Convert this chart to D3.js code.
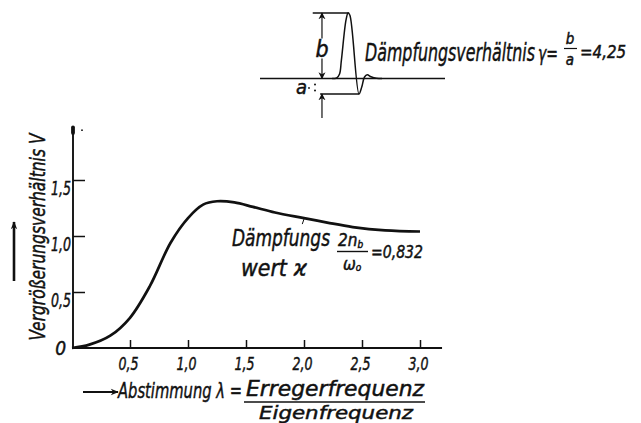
<!DOCTYPE html>
<html>
<head>
<meta charset="utf-8">
<script src="https://cdn.jsdelivr.net/npm/d3@7/dist/d3.min.js"></script>
<style>
  html, body { margin: 0; padding: 0; background: #fff; }
  svg { display: block; }
  text { font-family: "Liberation Sans Narrow", "DejaVu Sans Condensed", "Arial Narrow", sans-serif; font-style: italic; fill: #111; stroke: #111; stroke-width: 0.45; }
</style>
</head>
<body>
<svg id="chart" width="641" height="423"></svg>
<script>
// Resonance curve: magnification V against tuning ratio lambda
const lambda = [0, 0.15, 0.33, 0.5, 0.67, 0.85, 1.0, 1.13, 1.25, 1.4, 1.56, 1.75, 2.0, 2.2, 2.42, 2.7, 3.0];
const vergr  = [0, 0.03, 0.11, 0.27, 0.55, 0.94, 1.16, 1.28, 1.31, 1.30, 1.26, 1.21, 1.16, 1.12, 1.08, 1.05, 1.04];

const xTicks = [0.5, 1.0, 1.5, 2.0, 2.5, 3.0];
const xTickLabels = ["0,5", "1,0", "1,5", "2,0", "2,5", "3,0"];
const yTicks = [0, 0.5, 1.0, 1.5];
const yTickLabels = ["0", "0,5", "1,0", "1,5"];

// Decay record sketch: time (arbitrary) and deflection, b = 4,25 and a = 1
const pulseT = [39, 41.5, 43, 44, 46.5, 47.6, 48.6, 53.5, 55, 56.5, 58, 60, 63, 66];
const pulseA = [0, 0.05, 0.3, 1.2, 3.8, 4.25, 4.1, -1.0, -0.55, 0.1, 0.24, 0.12, 0.02, 0];
const ampB = 4.25, ampA = -1;

const ink = "#111";
const svg = d3.select("#chart");

const x = d3.scaleLinear().domain([0, 3]).range([72, 420]);
const y = d3.scaleLinear().domain([0, 1.5]).range([348, 180]);

// axes
const xAxis = d3.axisBottom(x).tickValues(xTicks).tickSize(-8)
  .tickFormat((d, i) => xTickLabels[i]);
const yAxis = d3.axisLeft(y).tickValues(yTicks.filter(d => d > 0)).tickSize(-12)
  .tickFormat(d => yTickLabels[yTicks.indexOf(d)]);

const gx = svg.append("g").attr("transform", `translate(0,${y(0)})`).call(xAxis);
gx.select(".domain").remove();
gx.selectAll(".tick line").attr("stroke", ink).attr("stroke-width", 1.5);
gx.selectAll(".tick text").attr("y", 22).attr("dy", null).attr("dx", -2)
  .attr("font-size", 18).attr("fill", ink).attr("font-family", null)
  .attr("textLength", 20).attr("lengthAdjust", "spacingAndGlyphs");

const gy = svg.append("g").attr("transform", `translate(${x(0) + 1},0)`).call(yAxis);
gy.select(".domain").remove();
gy.selectAll(".tick line").attr("stroke", ink).attr("stroke-width", 1.5);
gy.selectAll(".tick text").attr("x", -2).attr("dy", 14)
  .attr("font-size", 19).attr("fill", ink).attr("font-family", null)
  .attr("textLength", 20).attr("lengthAdjust", "spacingAndGlyphs");

// zero label at the origin
svg.append("text").attr("x", x(0) - 6).attr("y", y(0) + 7).attr("text-anchor", "end")
  .attr("font-size", 19).text(yTickLabels[0]);

// axis lines
svg.append("line").attr("x1", x(0) + 1).attr("x2", x(0) + 1).attr("y1", y(1.97)).attr("y2", y(0))
  .attr("stroke", ink).attr("stroke-width", 1.9);
svg.append("line").attr("x1", x(0) + 1).attr("x2", x(0) + 1).attr("y1", y(1.97)).attr("y2", y(1.92))
  .attr("stroke", ink).attr("stroke-width", 3.8).attr("stroke-linecap", "round");
svg.append("circle").attr("cx", x(0) + 10).attr("cy", y(1.945)).attr("r", 0.9).attr("fill", ink);
svg.append("line").attr("x1", x(0)).attr("x2", x(3.19)).attr("y1", y(0)).attr("y2", y(0))
  .attr("stroke", ink).attr("stroke-width", 1.9);

// resonance curve
const pts = lambda.map((l, i) => [l, vergr[i]]);
svg.append("path").datum(pts)
  .attr("d", d3.line().x(d => x(d[0])).y(d => y(d[1])).curve(d3.curveCatmullRom.alpha(0.5)))
  .attr("fill", "none").attr("stroke", ink).attr("stroke-width", 2.7);

// small pointer mark on the curve near lambda = 2
svg.append("line").attr("x1", x(2.0)).attr("y1", y(1.16) + 1).attr("x2", x(1.985)).attr("y2", y(1.16) + 6)
  .attr("stroke", ink).attr("stroke-width", 1);

// arrow markers
const defs = svg.append("defs");
defs.append("marker").attr("id", "head").attr("viewBox", "0 0 10 10").attr("refX", 9).attr("refY", 5)
  .attr("markerWidth", 10).attr("markerHeight", 8).attr("markerUnits", "userSpaceOnUse").attr("orient", "auto")
  .append("path").attr("d", "M0,1 L10,5 L0,9 L3,5 Z").attr("fill", ink);
defs.append("marker").attr("id", "headS").attr("viewBox", "0 0 10 10").attr("refX", 9).attr("refY", 5)
  .attr("markerWidth", 7).attr("markerHeight", 8).attr("markerUnits", "userSpaceOnUse").attr("orient", "auto")
  .append("path").attr("d", "M0,0 L10,5 L0,10 L3,5 Z").attr("fill", ink);

// y-axis title with arrow
svg.append("line").attr("x1", 14).attr("x2", 14).attr("y1", 281).attr("y2", 222)
  .attr("stroke", ink).attr("stroke-width", 2.6).attr("marker-end", "url(#head)");
svg.append("text").attr("transform", "translate(45,237) rotate(-90)")
  .attr("text-anchor", "middle").attr("font-size", 22)
  .attr("textLength", 207).attr("lengthAdjust", "spacingAndGlyphs")
  .text("Vergrößerungsverhältnis V");

// x-axis title with arrow and fraction
svg.append("line").attr("x1", 83).attr("x2", 118).attr("y1", 392).attr("y2", 392)
  .attr("stroke", ink).attr("stroke-width", 2).attr("marker-end", "url(#head)");
svg.append("text").attr("x", 118).attr("y", 398).attr("font-size", 22)
  .attr("textLength", 124).attr("lengthAdjust", "spacingAndGlyphs").text("Abstimmung λ =");
svg.append("text").attr("x", 246).attr("y", 396).attr("font-size", 21)
  .attr("textLength", 178).attr("lengthAdjust", "spacingAndGlyphs").text("Erregerfrequenz");
svg.append("line").attr("x1", 244).attr("x2", 425).attr("y1", 402).attr("y2", 402)
  .attr("stroke", ink).attr("stroke-width", 1.4);
svg.append("text").attr("x", 259).attr("y", 418.5).attr("font-size", 18.5)
  .attr("textLength", 154).attr("lengthAdjust", "spacingAndGlyphs").text("Eigenfrequenz");

// damping value annotation
svg.append("text").attr("x", 232).attr("y", 246).attr("font-size", 23)
  .attr("textLength", 98).attr("lengthAdjust", "spacingAndGlyphs").text("Dämpfungs");
svg.append("text").attr("x", 241).attr("y", 276).attr("font-size", 23)
  .attr("textLength", 66).attr("lengthAdjust", "spacingAndGlyphs").text("wert ϰ");
const num = svg.append("text").attr("x", 338).attr("y", 246).attr("font-size", 17);
num.append("tspan").text("2n");
num.append("tspan").attr("font-size", 10).attr("dy", 2).text("b");
svg.append("line").attr("x1", 337).attr("x2", 368).attr("y1", 251.5).attr("y2", 251.5)
  .attr("stroke", ink).attr("stroke-width", 1.4);
const den = svg.append("text").attr("x", 343).attr("y", 270).attr("font-size", 17);
den.append("tspan").text("ω");
den.append("tspan").attr("font-size", 10).attr("dy", 1).text("o");
svg.append("text").attr("x", 371).attr("y", 258).attr("font-size", 18)
  .attr("textLength", 52).attr("lengthAdjust", "spacingAndGlyphs").text("=0,832");

// decay record sketch
const xi = d3.scaleLinear().domain([0, 100]).range([260, 445]);
const yi = d3.scaleLinear().domain([ampA, ampB]).range([94, 13]);

svg.append("line").attr("x1", xi(0)).attr("x2", xi(100)).attr("y1", yi(0)).attr("y2", yi(0))
  .attr("stroke", ink).attr("stroke-width", 1.4);
svg.append("line").attr("x1", xi(28.5)).attr("x2", xi(48.2)).attr("y1", yi(ampB)).attr("y2", yi(ampB))
  .attr("stroke", ink).attr("stroke-width", 1.4);
svg.append("line").attr("x1", xi(32.5)).attr("x2", xi(53.5)).attr("y1", yi(ampA)).attr("y2", yi(ampA))
  .attr("stroke", ink).attr("stroke-width", 1.4);
svg.append("path").datum(pulseT.map((t, i) => [t, pulseA[i]]))
  .attr("d", d3.line().x(d => xi(d[0])).y(d => yi(d[1])).curve(d3.curveCatmullRom.alpha(0.5)))
  .attr("fill", "none").attr("stroke", ink).attr("stroke-width", 1.5);

// dimension arrows for b and a
const xd = xi(33.5);
svg.append("line").attr("x1", xd).attr("x2", xd).attr("y1", yi(2.6)).attr("y2", yi(ampB))
  .attr("stroke", ink).attr("stroke-width", 1.2).attr("marker-end", "url(#headS)");
svg.append("line").attr("x1", xd).attr("x2", xd).attr("y1", yi(1.3)).attr("y2", yi(0))
  .attr("stroke", ink).attr("stroke-width", 1.2).attr("marker-end", "url(#headS)");
svg.append("text").attr("x", xd).attr("y", yi(1.4)).attr("text-anchor", "middle").attr("font-size", 23).text("b");
svg.append("line").attr("x1", xd).attr("x2", xd).attr("y1", 118).attr("y2", yi(ampA))
  .attr("stroke", ink).attr("stroke-width", 1.2).attr("marker-end", "url(#headS)");
svg.append("text").attr("x", 296).attr("y", 94).attr("font-size", 20).text("a");
svg.append("circle").attr("cx", 309).attr("cy", 88).attr("r", 0.9).attr("fill", ink);
svg.append("circle").attr("cx", 315).attr("cy", 84.5).attr("r", 1).attr("fill", ink);
svg.append("circle").attr("cx", 315).attr("cy", 90.5).attr("r", 1).attr("fill", ink);

// damping ratio caption
svg.append("text").attr("x", 365).attr("y", 61).attr("font-size", 25)
  .attr("textLength", 170).attr("lengthAdjust", "spacingAndGlyphs").text("Dämpfungsverhältnis");
svg.append("text").attr("x", 538).attr("y", 61).attr("font-size", 21)
  .attr("textLength", 20).attr("lengthAdjust", "spacingAndGlyphs").text("γ=");
svg.append("text").attr("x", 570).attr("y", 44).attr("text-anchor", "middle").attr("font-size", 15).text("b");
svg.append("line").attr("x1", 564).attr("x2", 577).attr("y1", 48.5).attr("y2", 48.5)
  .attr("stroke", ink).attr("stroke-width", 1.2);
svg.append("text").attr("x", 570).attr("y", 65).attr("text-anchor", "middle").attr("font-size", 15).text("a");
svg.append("text").attr("x", 580).attr("y", 58).attr("font-size", 17)
  .attr("textLength", 46).attr("lengthAdjust", "spacingAndGlyphs").text("=4,25");
</script>
</body>
</html>
